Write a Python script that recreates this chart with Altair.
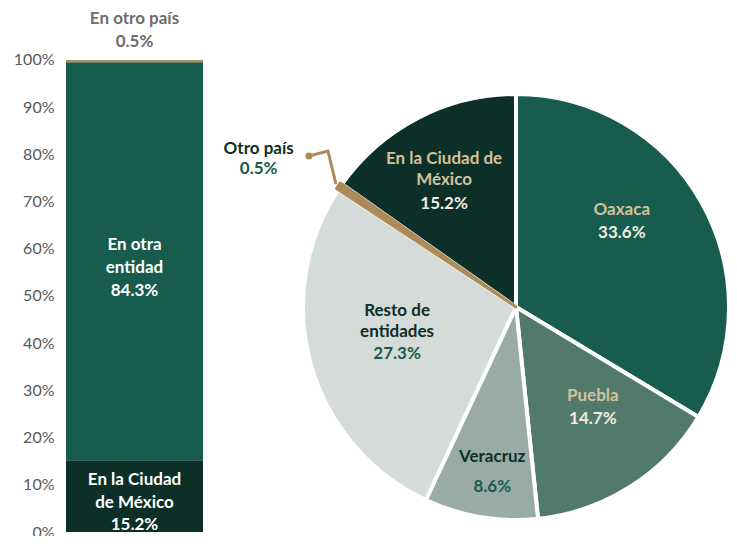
import math
import altair as alt
import pandas as pd

# ---------------- data ----------------
bar_categories = ["En la Ciudad de México", "En otra entidad", "En otro país"]
bar_values = [15.2, 84.3, 0.5]
bar_texts = ["En la Ciudad\nde México\n15.2%", "En otra\nentidad\n84.3%", "En otro país\n0.5%"]

pie_categories = ["Oaxaca", "Puebla", "Veracruz", "Resto de entidades", "Otro país",
                  "En la Ciudad de México"]
pie_values = [33.6, 14.7, 8.6, 27.3, 0.5, 15.2]
pie_names = ["Oaxaca", "Puebla", "Veracruz", "Resto de\nentidades", "Otro país",
             "En la Ciudad de\nMéxico"]
pie_pcts = ["33.6%", "14.7%", "8.6%", "27.3%", "0.5%", "15.2%"]

y_ticks = [0, 10, 20, 30, 40, 50, 60, 70, 80, 90, 100]

# ---------------- styles / layout ----------------
FONT = "Lato"
DARK = "#0c2f27"
GREEN = "#175c4e"
TAN = "#ad8a59"
LABEL_TAN = "#d5c19b"
CREAM = "#f1ece1"
bar_colors = [DARK, GREEN, TAN]
pie_colors = [GREEN, "#517a6d", "#99aba5", "#d4dbd9", TAN, DARK]

BAR_W = 137
PLOT_H = 524
PIE_W = 526
CX, CY, R = 313, 299, 213
LH_PIE = 21
FS = 17

# label anchors (angle in degrees clockwise from top, radius px) for percentage lines
label_anchor = {
    "Oaxaca": (55.1, 129),
    "Puebla": (145.6, 136),
    "Veracruz": (187.5, 182),
    "Resto de entidades": (248.3, 128),
    "Otro país": (298.2, 292),
    "En la Ciudad de México": (325.2, 126),
}
name_gap = {"Oaxaca": 23, "Puebla": 23, "Veracruz": 30, "Resto de entidades": 22,
            "Otro país": 20, "En la Ciudad de México": 24}
light_slices = {"Veracruz", "Resto de entidades", "Otro país"}

# ---------------- left stacked bar ----------------
bar_df = pd.DataFrame({"cat": bar_categories, "value": bar_values, "text": bar_texts})
bar_df["grp"] = "total"
bar_df["y1"] = bar_df["value"].cumsum()
bar_df["y0"] = bar_df["y1"] - bar_df["value"]
bar_df["mid"] = (bar_df["y0"] + bar_df["y1"]) / 2
bar_df["text"] = bar_df["text"].str.split("\n")

yscale = alt.Scale(domain=[0, 111], nice=False, zero=True)
xband = alt.X("grp:N", axis=None, scale=alt.Scale(paddingInner=0, paddingOuter=0))

base_bar = alt.Chart(bar_df)
rects = base_bar.mark_rect().encode(
    x=xband,
    y=alt.Y("y0:Q", scale=yscale, title=None,
            axis=alt.Axis(values=y_ticks, labelExpr="datum.value + '%'", ticks=False,
                          domain=False, grid=False, labelFont=FONT, labelFontSize=16,
                          labelColor="#595959", labelPadding=12, labelFlush=False,
                          minExtent=52, maxExtent=52)),
    y2="y1:Q",
    color=alt.Color("cat:N", scale=alt.Scale(domain=bar_categories, range=bar_colors),
                    legend=None),
)

txt_cdmx = base_bar.transform_filter(alt.datum.cat == bar_categories[0]).mark_text(
    font=FONT, fontSize=FS, fontWeight="bold", color="white", lineHeight=22.5,
    baseline="middle", dy=-16).encode(x=xband, y=alt.Y("mid:Q", scale=yscale), text="text")
txt_otra = base_bar.transform_filter(alt.datum.cat == bar_categories[1]).mark_text(
    font=FONT, fontSize=FS, fontWeight="bold", color="white", lineHeight=23,
    baseline="middle", dy=-16).encode(x=xband, y=alt.Y("mid:Q", scale=yscale), text="text")
txt_pais = base_bar.transform_filter(alt.datum.cat == bar_categories[2]).mark_text(
    font=FONT, fontSize=FS, fontWeight="bold", color="#6d6d6d", lineHeight=23,
    baseline="middle", dy=-41).encode(x=xband, y=alt.Y("y1:Q", scale=yscale), text="text")

left = alt.layer(rects, txt_cdmx, txt_otra, txt_pais).properties(width=BAR_W, height=PLOT_H)

# ---------------- right pie ----------------
pie_df = pd.DataFrame({"name": pie_categories, "value": pie_values,
                       "idx": list(range(len(pie_values)))})
pie_df["label"] = [n.split("\n") for n in pie_names]
pie_df["pct"] = pie_pcts
pie_df["ang"] = [math.radians(label_anchor[n][0]) for n in pie_categories]
pie_df["rad"] = [label_anchor[n][1] for n in pie_categories]
# name first-line position: above the percentage line
n_ang, n_rad = [], []
for n, lab in zip(pie_categories, pie_names):
    a = math.radians(label_anchor[n][0])
    r = label_anchor[n][1]
    px, py = r * math.sin(a), -r * math.cos(a)
    py -= name_gap[n] + (len(lab.split("\n")) - 1) * LH_PIE
    n_rad.append(math.hypot(px, py))
    n_ang.append(math.atan2(px, -py) % (2 * math.pi))
pie_df["nang"] = n_ang
pie_df["nrad"] = n_rad
pie_df["ncol"] = [DARK if n in light_slices else LABEL_TAN for n in pie_categories]
pie_df["pcol"] = [GREEN if n in light_slices else CREAM for n in pie_categories]

color_enc = alt.Color("name:N", scale=alt.Scale(domain=pie_categories, range=pie_colors),
                      legend=None)
base_pie = alt.Chart(pie_df)
arcs = base_pie.mark_arc(radius=R, stroke="white", strokeWidth=4, strokeJoin="round").encode(
    theta=alt.Theta("value:Q", stack=True),
    order=alt.Order("idx:Q"),
    color=color_enc,
    x=alt.value(CX), y=alt.value(CY),
)
otro_arc = base_pie.mark_arc(radius=R + 2, stroke=TAN, strokeWidth=3, strokeJoin="round").encode(
    theta=alt.Theta("value:Q", stack=True),
    order=alt.Order("idx:Q"),
    color=color_enc,
    opacity=alt.when(alt.datum.name == "Otro país").then(alt.value(1)).otherwise(alt.value(0)),
    x=alt.value(CX), y=alt.value(CY),
)

names = base_pie.mark_text(font=FONT, fontSize=FS, fontWeight="bold", lineHeight=LH_PIE,
                           baseline="middle").encode(
    theta=alt.Theta("nang:Q", scale=None, stack=False),
    radius=alt.Radius("nrad:Q", scale=None),
    text="label",
    color=alt.Color("ncol:N", scale=None),
    x=alt.value(CX), y=alt.value(CY),
)
pcts = base_pie.mark_text(font=FONT, fontSize=FS, fontWeight="bold", baseline="middle").encode(
    theta=alt.Theta("ang:Q", scale=None, stack=False),
    radius=alt.Radius("rad:Q", scale=None),
    text="pct",
    color=alt.Color("pcol:N", scale=None),
    x=alt.value(CX), y=alt.value(CY),
)

# leader line for "Otro país" from the slice edge
total = sum(pie_values)
i_otro = pie_categories.index("Otro país")
before = sum(pie_values[:i_otro])
mid_ang = math.radians((before + pie_values[i_otro] / 2) / total * 360)
sx = CX + (R + 5) * math.sin(mid_ang)
sy = CY - (R + 5) * math.cos(mid_ang)
leader_offsets = [(0, 0), (-8, -33), (-27, -28)]
leader_df = pd.DataFrame({"px": [sx + o[0] for o in leader_offsets],
                          "py": [sy + o[1] for o in leader_offsets],
                          "k": list(range(3))})
leader = alt.Chart(leader_df).mark_line(color=TAN, strokeWidth=3).encode(
    x=alt.X("px:Q", scale=None), y=alt.Y("py:Q", scale=None), order="k:Q")
dot = alt.Chart(leader_df.iloc[[2]]).mark_circle(color=TAN, opacity=1, size=50).encode(
    x=alt.X("px:Q", scale=None), y=alt.Y("py:Q", scale=None))

right = alt.layer(arcs, otro_arc, leader, dot, names, pcts).properties(
    width=PIE_W, height=PLOT_H)

chart = alt.hconcat(left, right, spacing=0).resolve_scale(color="independent").properties(
    padding={"left": 5, "top": 0, "right": -4, "bottom": -4}
).configure_view(stroke=None)

chart.save("out.html", embed_options={"renderer": "svg", "actions": False})
